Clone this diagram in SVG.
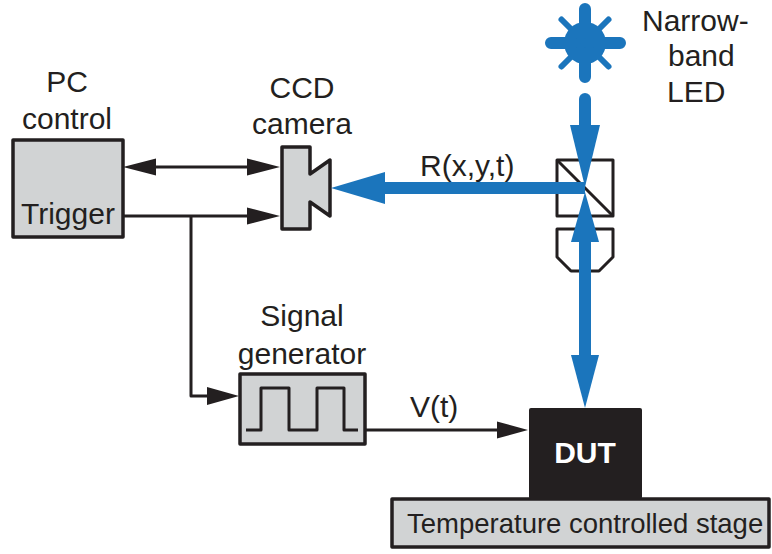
<svg xmlns="http://www.w3.org/2000/svg" width="772" height="554" viewBox="0 0 772 554">
<style>
text{font-family:"Liberation Sans",Arial,sans-serif;font-size:30px;fill:#231f20}
.m{text-anchor:middle}
.box{fill:#d1d3d4;stroke:#231f20;stroke-width:3.5;stroke-linejoin:round}
.ln{fill:none;stroke:#231f20;stroke-width:3;stroke-linejoin:round}
.k{fill:#231f20}
.b{fill:#1b75bc}
.bl{fill:none;stroke:#1b75bc;stroke-linecap:round}
</style>
<rect width="772" height="554" fill="#fff"/>
<g id="led">
<circle class="b" cx="585" cy="43" r="21"/>
<path class="bl" stroke-width="12" d="M585 9V77M551 43H620"/>
<path class="bl" stroke-width="6" d="M561.500 19.500L608.500 66.500M608.500 19.500L561.500 66.500"/>
<text x="642" y="31">Narrow-</text><text x="668" y="66">band</text><text x="667" y="102">LED</text>
</g>
<g id="pc-control">
<rect class="box" x="13" y="140" width="110" height="97"/>
<text class="m" x="67" y="92">PC</text><text class="m" x="67" y="129">control</text>
<text x="21" y="224">Trigger</text>
</g>
<g id="ccd-camera">
<path class="box" d="M282 147H310V174L330 160V216L310 202V229H282Z"/>
<text class="m" x="302" y="98">CCD</text><text class="m" x="302" y="134">camera</text>
</g>
<g id="signal-generator">
<rect class="box" x="240" y="374" width="125" height="70"/>
<path class="ln" d="M246 430H261V388H289V430H317V388H344V430H358"/>
<text class="m" x="302" y="326">Signal</text><text class="m" x="302" y="364">generator</text>
</g>
<g id="stage">
<rect class="box" x="392" y="499" width="377" height="48"/>
<text x="407" y="533" style="font-size:27.500px">Temperature controlled stage</text>
</g>
<g id="dut">
<rect x="529" y="408" width="113" height="91" rx="2" fill="#231f20"/>
<text class="m" x="585" y="463" font-weight="700" style="fill:#fff">DUT</text>
</g>
<g id="beamsplitter">
<rect class="ln" x="557" y="160" width="56" height="56"/>
<path class="ln" d="M557 160L613 216"/>
</g>
<g id="objective">
<path class="ln" d="M557 229H613V257L599 271H571L557 257Z"/>
</g>
<g id="connectors">
<path class="ln" d="M150 167H250M123 216H250M191 216V396H208M365 430H498"/>
<path class="k" d="M123 167L156 158.500V175.500ZM280 167L247 158.500V175.500ZM280 216L247 207.500V224.500ZM239 396L207 387V405ZM528 430L497 421.500V438.500Z"/>
<rect class="b" x="579" y="93" width="12" height="40" rx="6" ry="6"/>
<path class="b" d="M570 125H600L585 187Z"/>
<path class="b" d="M384 182H585V194H384Z"/>
<path class="b" d="M331 188L385 172V204Z"/>
<rect class="b" x="579" y="240" width="12" height="120"/>
<path class="b" d="M585 192L599 242H571Z"/>
<path class="b" d="M571 355H599L585 408Z"/>
<text x="420" y="176">R(x,y,t)</text>
<text x="410" y="417">V(t)</text>
</g>
</svg>
